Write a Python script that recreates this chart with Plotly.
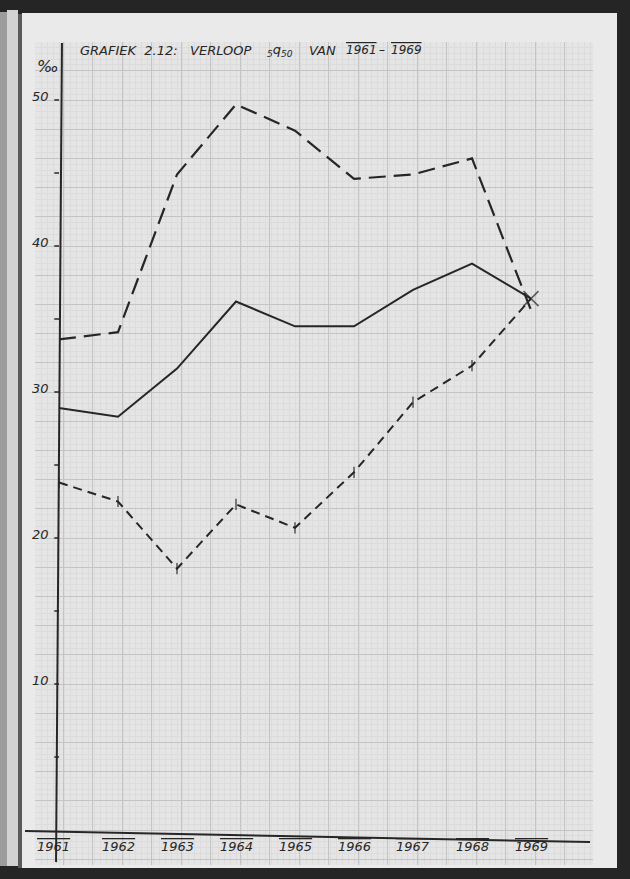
import plotly.graph_objects as go

W, H = 630, 879

years = [1961, 1962, 1963, 1964, 1965, 1966, 1967, 1968, 1969]
year_labels = ["1961", "1962", "1963", "1964", "1965", "1966", "1967", "1968", "1969"]
upper = [33.6, 34.1, 44.9, 49.7, 47.9, 44.6, 44.9, 46.0, 35.6]
middle = [28.9, 28.3, 31.6, 36.2, 34.5, 34.5, 37.0, 38.8, 36.4]
lower = [23.8, 22.5, 17.9, 22.3, 20.7, 24.5, 29.3, 31.8, 36.4]
y_tick_vals = [10, 20, 30, 40, 50]
y_tick_labels = ["10", "20", "30", "40", "50"]
y_minor_ticks = [5, 15, 25, 35, 45]

INK = "#262626"
FONT = "DejaVu Sans"

def px(x):
    return x / W

def py(y):
    return 1 - y / H

fig = go.Figure()

fig.add_trace(go.Scatter(x=years, y=upper, mode="lines",
                         line=dict(color=INK, width=2.2, dash="17px,8px"),
                         showlegend=False))
fig.add_trace(go.Scatter(x=years, y=middle, mode="lines",
                         line=dict(color=INK, width=2),
                         showlegend=False))
n = len(years)
fig.add_trace(go.Scatter(x=years, y=lower, mode="lines+markers",
                         line=dict(color=INK, width=2, dash="9px,6px"),
                         marker=dict(symbol=["line-ns"] * (n - 1) + ["x-thin"],
                                     size=[8] * (n - 1) + [15],
                                     color=INK,
                                     line=dict(color=INK, width=1.6)),
                         showlegend=False))

shapes = []
# background: other page strip, sheet
shapes.append(dict(type="rect", xref="paper", yref="paper", x0=0, x1=px(7), y0=py(866), y1=py(12),
                   fillcolor="#9c9c9c", line_width=0, layer="below"))
shapes.append(dict(type="rect", xref="paper", yref="paper", x0=px(7), x1=px(18), y0=py(866), y1=py(10),
                   fillcolor="#d2d2d2", line_width=0, layer="below"))
shapes.append(dict(type="rect", xref="paper", yref="paper", x0=px(18), x1=px(22), y0=py(868), y1=py(14),
                   fillcolor="#5a5a5a", line_width=0, layer="below"))
shapes.append(dict(type="rect", xref="paper", yref="paper", x0=px(22), x1=px(617), y0=py(868), y1=py(13),
                   fillcolor="#eaeaea", line_width=0, layer="below"))
shapes.append(dict(type="rect", xref="paper", yref="paper", x0=px(35), x1=px(593), y0=py(865), y1=py(42),
                   fillcolor="#e5e5e5", line_width=0, layer="below"))

# hand-drawn axes
shapes.append(dict(type="line", xref="x", yref="y", x0=1961.05, y0=53.9, x1=1960.95, y1=-2.2,
                   line=dict(color=INK, width=2)))
shapes.append(dict(type="line", xref="paper", yref="y", x0=px(25), y0=-0.07, x1=px(590), y1=-0.82,
                   line=dict(color=INK, width=2)))
for v in y_tick_vals + y_minor_ticks:
    shapes.append(dict(type="line", xref="x", yref="y", x0=1961 - 0.08, x1=1961, y0=v, y1=v,
                       line=dict(color=INK, width=1.5)))

annotations = []
for i, (yr, lab) in enumerate(zip(years, year_labels)):
    annotations.append(dict(x=yr, y=-1.15, xref="x", yref="y", text=lab, showarrow=False,
                            xanchor="center", yanchor="middle", xshift=-6 if i == 0 else 0,
                            font=dict(family=FONT, size=13, color=INK, style="italic",
                                      lineposition="over")))
for v, lab in zip(y_tick_vals, y_tick_labels):
    annotations.append(dict(x=px(51), y=v, xref="paper", yref="y", text=lab, showarrow=False,
                            xanchor="right", yanchor="middle", yshift=4,
                            font=dict(family=FONT, size=13, color=INK, style="italic")))
annotations.append(dict(x=px(48), y=py(67), xref="paper", yref="paper", text="‰", showarrow=False,
                        xanchor="center", yanchor="middle",
                        font=dict(family=FONT, size=16, color=INK, style="italic")))

title_parts = [
    (78, "GRAFIEK  2.12:   VERLOOP", None, 13),
    (265, "<sub>5</sub>q<sub>50</sub>", None, 13),
    (307, "VAN", None, 13),
    (344, "1961", "over", 12),
    (377, "–", None, 12),
    (389, "1969", "over", 12),
]
for x0, txt, lp, sz in title_parts:
    f = dict(family=FONT, size=sz, color=INK, style="italic")
    if lp:
        f["lineposition"] = lp
    annotations.append(dict(x=px(x0), y=py(50), xref="paper", yref="paper", text=txt, showarrow=False,
                            xanchor="left", yanchor="middle", font=f))

x0px, step = 59, 59.0
xr = [1961 + (35 - x0px) / step, 1961 + (593 - x0px) / step]
yr = [(830 - 865) / 14.6, (830 - 42) / 14.6]

fig.update_layout(
    width=W, height=H,
    margin=dict(l=0, r=0, t=0, b=0),
    paper_bgcolor="#252525",
    plot_bgcolor="rgba(0,0,0,0)",
    shapes=shapes,
    annotations=annotations,
    xaxis=dict(domain=[px(35), px(593)], range=xr, showticklabels=False, ticks="",
               showgrid=True, gridcolor="#c4c4c4", gridwidth=1, tick0=1961.076, dtick=0.5,
               zeroline=False, showline=False, fixedrange=True,
               minor=dict(showgrid=True, gridcolor="#dcdcdc", gridwidth=0.6, dtick=0.1, ticks="")),
    yaxis=dict(domain=[1 - 865 / H, 1 - 42 / H], range=yr, showticklabels=False, ticks="",
               showgrid=True, gridcolor="#c4c4c4", gridwidth=1, tick0=0, dtick=2,
               zeroline=False, showline=False, fixedrange=True,
               minor=dict(showgrid=True, gridcolor="#dcdcdc", gridwidth=0.6, dtick=0.4, ticks="")),
)

fig.write_html("out.html", config={"displayModeBar": False},
               post_script="document.body.style.margin='0';document.body.style.overflow='hidden';")
